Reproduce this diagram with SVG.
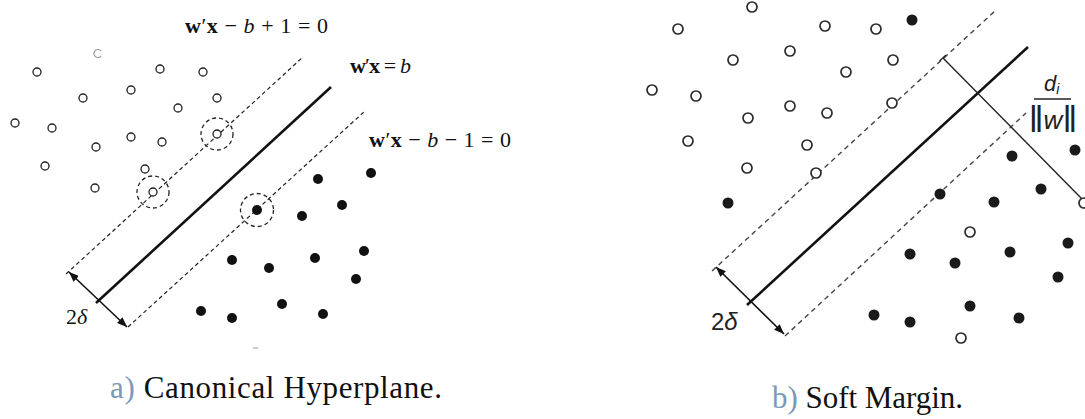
<svg xmlns="http://www.w3.org/2000/svg" width="1085" height="419" viewBox="0 0 1085 419">
<defs>
<marker id="ah" viewBox="0 0 10 8" refX="10" refY="4" markerWidth="10" markerHeight="8" markerUnits="userSpaceOnUse" orient="auto-start-reverse">
<path d="M0,0 L10,4 L0,8 Z" fill="#111"/>
</marker>
<style>
.oL{fill:#fff;stroke:#222;stroke-width:1.3}
.fL{fill:#111}
.oR{fill:#fff;stroke:#2a2a2a;stroke-width:1.7}
.fR{fill:#1a1a1a}
.solid{stroke:#111;stroke-width:2.6;fill:none}
.dashL{stroke:#222;stroke-width:1.2;stroke-dasharray:4 3;fill:none}
.dashR{stroke:#444;stroke-width:1.4;stroke-dasharray:5 4;fill:none}
.ring{stroke:#222;stroke-width:1.3;stroke-dasharray:4 3;fill:none}
.arr{stroke:#111;stroke-width:1.6;fill:none}
.eq{font-family:"Liberation Serif","DejaVu Serif",serif;font-size:22px;fill:#111}
.cap{font-family:"Liberation Serif","DejaVu Serif",serif;font-size:31px;fill:#111}
.sans{font-family:"Liberation Sans","DejaVu Sans",sans-serif;fill:#222}
</style>
</defs>
<rect width="1085" height="419" fill="#fff"/>

<g id="panel-a">
<g id="a-lines">
<line class="solid" x1="96" y1="303" x2="331" y2="87"/>
<line class="dashL" x1="66" y1="274" x2="303" y2="57"/>
<line class="dashL" x1="128" y1="327" x2="365" y2="111"/>
<line class="arr" x1="69" y1="272" x2="127" y2="327" marker-start="url(#ah)" marker-end="url(#ah)"/>
<circle class="ring" cx="217" cy="134" r="16"/>
<circle class="ring" cx="153" cy="192" r="16"/>
<circle class="ring" cx="257" cy="210" r="16.5"/>
</g>
<g id="a-open">
<circle class="oL" cx="37" cy="72" r="4"/>
<circle class="oL" cx="160" cy="69" r="4"/>
<circle class="oL" cx="203" cy="72" r="4"/>
<circle class="oL" cx="83" cy="98" r="4"/>
<circle class="oL" cx="131" cy="90" r="4"/>
<circle class="oL" cx="217" cy="98" r="4"/>
<circle class="oL" cx="178" cy="108" r="4"/>
<circle class="oL" cx="15" cy="123" r="4"/>
<circle class="oL" cx="52" cy="128" r="4"/>
<circle class="oL" cx="96" cy="147" r="4"/>
<circle class="oL" cx="131" cy="137" r="4"/>
<circle class="oL" cx="162" cy="142" r="4"/>
<circle class="oL" cx="45" cy="166" r="4"/>
<circle class="oL" cx="145" cy="169" r="4"/>
<circle class="oL" cx="95" cy="188" r="4"/>
<circle class="oL" cx="217" cy="134" r="4"/>
<circle class="oL" cx="153" cy="192" r="4"/>
<path d="M101,51 A4,4 0 1 0 101,56" fill="none" stroke="#999" stroke-width="1.2"/>
</g>
<g id="a-filled">
<circle class="fL" cx="318" cy="179" r="5"/>
<circle class="fL" cx="371" cy="173" r="5"/>
<circle class="fL" cx="342" cy="205" r="5"/>
<circle class="fL" cx="302" cy="216" r="5"/>
<circle class="fL" cx="257" cy="210" r="5"/>
<circle class="fL" cx="232" cy="260" r="5"/>
<circle class="fL" cx="269" cy="268" r="5"/>
<circle class="fL" cx="315" cy="258" r="5"/>
<circle class="fL" cx="364" cy="251" r="5"/>
<circle class="fL" cx="356" cy="279" r="5"/>
<circle class="fL" cx="201" cy="311" r="5"/>
<circle class="fL" cx="232" cy="318" r="5"/>
<circle class="fL" cx="282" cy="304" r="5"/>
<circle class="fL" cx="323" cy="314" r="5"/>
</g>
<g id="a-labels">
<text class="eq" x="185" y="33" textLength="143"><tspan font-weight="bold">w</tspan>′<tspan font-weight="bold">x</tspan> − <tspan font-style="italic">b</tspan> + 1 = 0</text>
<text class="eq" x="350" y="73" textLength="61"><tspan font-weight="bold">w</tspan>′<tspan font-weight="bold">x</tspan> = <tspan font-style="italic">b</tspan></text>
<text class="eq" x="369" y="147" textLength="142"><tspan font-weight="bold">w</tspan>′<tspan font-weight="bold">x</tspan> − <tspan font-style="italic">b</tspan> − 1 = 0</text>
<text class="eq" x="66" y="324" font-size="22">2<tspan font-style="italic">δ</tspan></text>
<line x1="253" y1="348" x2="258" y2="348" stroke="#999" stroke-width="1"/>
</g>
<text id="caption-a" class="cap" x="110" y="398" textLength="332"><tspan fill="#7a9ab8">a)</tspan> Canonical Hyperplane.</text>
</g>

<g id="panel-b">
<g id="b-lines">
<line class="solid" x1="747" y1="305" x2="1028" y2="47"/>
<line class="dashR" x1="712" y1="271" x2="995" y2="11"/>
<line class="dashR" x1="785" y1="336" x2="1026" y2="113"/>
<line class="arr" x1="716" y1="267" x2="784" y2="334" marker-start="url(#ah)" marker-end="url(#ah)"/>
<line x1="943" y1="58" x2="1083" y2="200" stroke="#222" stroke-width="1.4"/>
<line x1="939.5" y1="61" x2="946" y2="55" stroke="#222" stroke-width="1.2"/>
</g>
<g id="b-open">
<circle class="oR" cx="752" cy="7" r="5"/>
<circle class="oR" cx="678" cy="29" r="5"/>
<circle class="oR" cx="825" cy="26" r="5"/>
<circle class="oR" cx="733" cy="60" r="5"/>
<circle class="oR" cx="790" cy="51" r="5"/>
<circle class="oR" cx="846" cy="72" r="5"/>
<circle class="oR" cx="652" cy="90" r="5"/>
<circle class="oR" cx="696" cy="96" r="5"/>
<circle class="oR" cx="748" cy="118" r="5"/>
<circle class="oR" cx="790" cy="106" r="5"/>
<circle class="oR" cx="827" cy="113" r="5"/>
<circle class="oR" cx="688" cy="141" r="5"/>
<circle class="oR" cx="807" cy="145" r="5"/>
<circle class="oR" cx="747" cy="168" r="5"/>
<circle class="oR" cx="816" cy="173" r="5"/>
<circle class="oR" cx="876" cy="29" r="5"/>
<circle class="oR" cx="893" cy="60" r="5"/>
<circle class="oR" cx="892" cy="103" r="5"/>
<circle class="oR" cx="970" cy="232" r="5"/>
<circle class="oR" cx="961" cy="338" r="5"/>
<circle class="oR" cx="1084" cy="203" r="5"/>
</g>
<g id="b-filled">
<circle class="fR" cx="728" cy="203" r="5.5"/>
<circle class="fR" cx="912" cy="20" r="5.5"/>
<circle class="fR" cx="1075" cy="150" r="5.5"/>
<circle class="fR" cx="1012" cy="156" r="5.5"/>
<circle class="fR" cx="1041" cy="189" r="5.5"/>
<circle class="fR" cx="940" cy="194" r="5.5"/>
<circle class="fR" cx="994" cy="202" r="5.5"/>
<circle class="fR" cx="1068" cy="243" r="5.5"/>
<circle class="fR" cx="910" cy="254" r="5.5"/>
<circle class="fR" cx="1010" cy="252" r="5.5"/>
<circle class="fR" cx="955" cy="263" r="5.5"/>
<circle class="fR" cx="1058" cy="277" r="5.5"/>
<circle class="fR" cx="970" cy="306" r="5.5"/>
<circle class="fR" cx="874" cy="315" r="5.5"/>
<circle class="fR" cx="910" cy="322" r="5.5"/>
<circle class="fR" cx="1019" cy="318" r="5.5"/>
</g>
<g id="b-labels">
<text class="sans" x="711" y="330" font-size="24">2<tspan font-style="italic">δ</tspan></text>
<text class="sans" x="1044" y="91" font-size="22" font-style="italic" fill="#223355">d<tspan font-size="14" dy="3">i</tspan></text>
<line x1="1034" y1="99" x2="1071" y2="99" stroke="#222" stroke-width="1.6"/>
<text class="sans" x="1053" y="129" font-size="26" font-style="italic" text-anchor="middle" fill="#223355"><tspan font-size="36" font-style="normal" dy="3">‖</tspan><tspan dy="-3">w</tspan><tspan font-size="36" font-style="normal" dy="3">‖</tspan></text>
</g>
<text id="caption-b" class="cap" x="772" y="408" textLength="191"><tspan fill="#7a9ab8">b)</tspan> Soft Margin.</text>
</g>
</svg>
